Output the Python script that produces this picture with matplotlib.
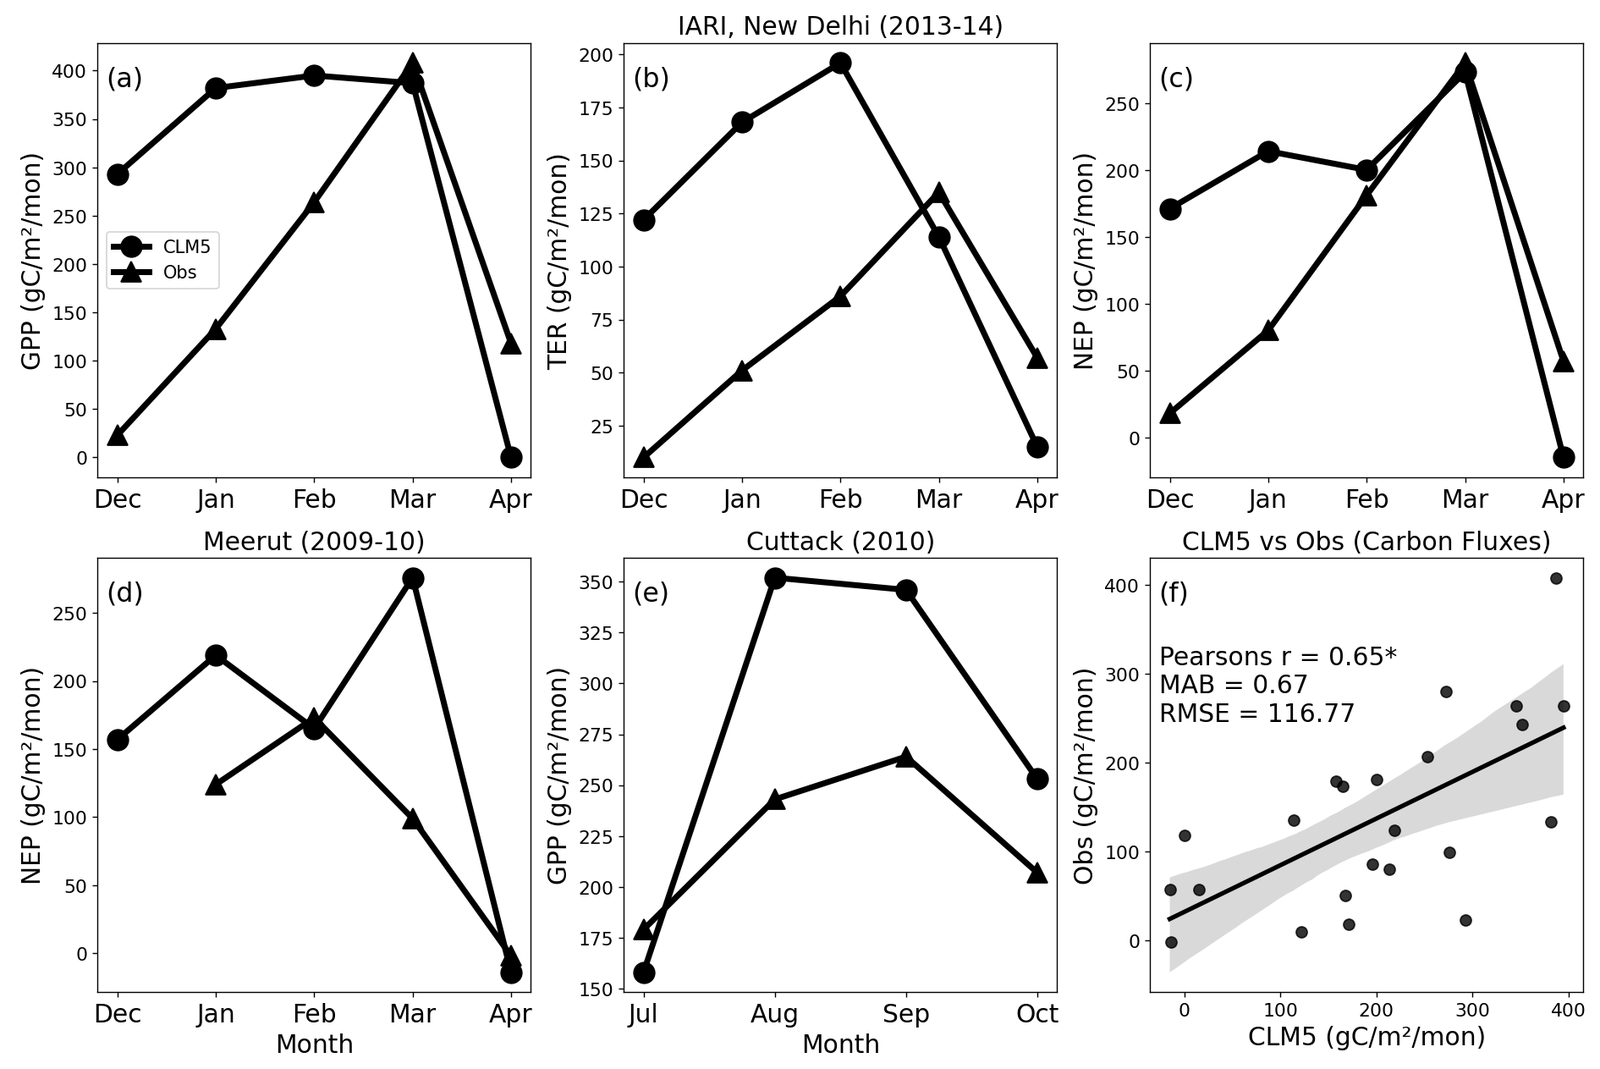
import numpy as np
import matplotlib.pyplot as plt
import seaborn as sns

# panel data (gC/m2/mon)
months_rabi = ['Dec', 'Jan', 'Feb', 'Mar', 'Apr']
months_kharif = ['Jul', 'Aug', 'Sep', 'Oct']

gpp_delhi_clm = [293, 382, 395, 387, 0]
gpp_delhi_obs = [23, 133, 264, 408, 118]

ter_delhi_clm = [122, 168, 196, 114, 15]
ter_delhi_obs = [10, 51, 86, 135, 57]

nep_delhi_clm = [171, 214, 200, 273, -15]
nep_delhi_obs = [18, 80, 181, 280, 57]

nep_meerut_clm = [157, 219, 165, 276, -14]
nep_meerut_obs = [np.nan, 124, 173, 99, -2]

gpp_cuttack_clm = [158, 352, 346, 253]
gpp_cuttack_obs = [179, 243, 264, 207]

stats_text = 'Pearsons r = 0.65*\nMAB = 0.67\nRMSE = 116.77'

fig, axes = plt.subplots(2, 3, figsize=(15, 10.02), dpi=126.13)
plt.subplots_adjust(left=0.061, right=0.989, top=0.959, bottom=0.072,
                    wspace=0.215, hspace=0.186)

lw = 4
ms = 14
big = 17
small = 12.5

panels = [
    (axes[0, 0], months_rabi, gpp_delhi_clm, gpp_delhi_obs, 'GPP (gC/m\u00b2/mon)', '(a)', ''),
    (axes[0, 1], months_rabi, ter_delhi_clm, ter_delhi_obs, 'TER (gC/m\u00b2/mon)', '(b)', 'IARI, New Delhi (2013-14)'),
    (axes[0, 2], months_rabi, nep_delhi_clm, nep_delhi_obs, 'NEP (gC/m\u00b2/mon)', '(c)', ''),
    (axes[1, 0], months_rabi, nep_meerut_clm, nep_meerut_obs, 'NEP (gC/m\u00b2/mon)', '(d)', 'Meerut (2009-10)'),
    (axes[1, 1], months_kharif, gpp_cuttack_clm, gpp_cuttack_obs, 'GPP (gC/m\u00b2/mon)', '(e)', 'Cuttack (2010)'),
]

for ax, months, clm, obs, ylabel, tag, title in panels:
    x = np.arange(len(months))
    ax.plot(x, clm, color='black', marker='o', lw=lw, ms=ms, label='CLM5')
    ax.plot(x, obs, color='black', marker='^', lw=lw, ms=ms, label='Obs')
    ax.set_xticks(x)
    ax.set_xticklabels(months, fontsize=big)
    ax.tick_params(axis='y', labelsize=small)
    ax.set_ylabel(ylabel, fontsize=big)
    ax.text(0.02, 0.918, tag, transform=ax.transAxes, fontsize=18, va='center')
    if title:
        ax.set_title(title, fontsize=big)

axes[0, 0].legend(loc='center left', fontsize=12)
axes[1, 0].set_xlabel('Month', fontsize=big)
axes[1, 1].set_xlabel('Month', fontsize=big)

# scatter of all paired values
all_clm = np.array(gpp_delhi_clm + ter_delhi_clm + nep_delhi_clm + nep_meerut_clm + gpp_cuttack_clm, dtype=float)
all_obs = np.array(gpp_delhi_obs + ter_delhi_obs + nep_delhi_obs + nep_meerut_obs + gpp_cuttack_obs, dtype=float)
ok = ~np.isnan(all_obs)

ax = axes[1, 2]
sns.regplot(x=all_clm[ok], y=all_obs[ok], ax=ax, color='black', seed=1,
            scatter_kws={'s': 55, 'alpha': 0.8},
            line_kws={'lw': 3})
ax.set_xlabel('CLM5 (gC/m\u00b2/mon)', fontsize=big)
ax.set_ylabel('Obs (gC/m\u00b2/mon)', fontsize=big)
ax.set_title('CLM5 vs Obs (Carbon Fluxes)', fontsize=big)
ax.tick_params(labelsize=small)
ax.text(0.02, 0.918, '(f)', transform=ax.transAxes, fontsize=18, va='center')
ax.text(0.02, 0.8, stats_text, transform=ax.transAxes, fontsize=big, va='top')

plt.savefig('out.png')
